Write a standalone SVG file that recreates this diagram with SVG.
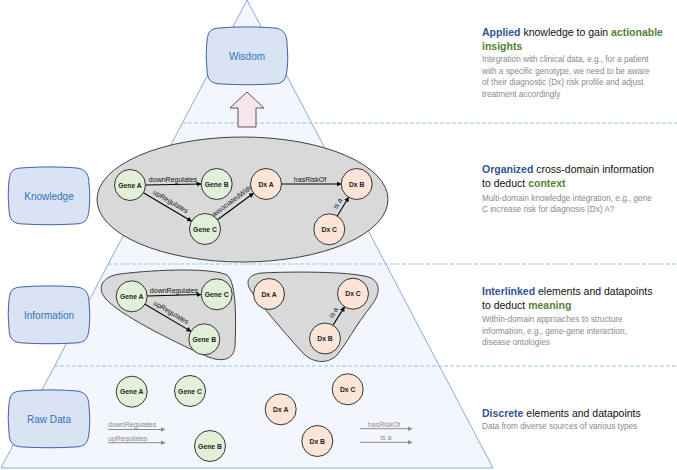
<svg xmlns="http://www.w3.org/2000/svg" width="677" height="470" viewBox="0 0 677 470">
<style>
.lbl{font-family:"Liberation Sans",Arial,sans-serif;font-size:10px;fill:#2e75b6;text-anchor:middle;dominant-baseline:central}
.blob{fill:#dae3f3;stroke:#3d62a8;stroke-width:1}
.gene{fill:#e2f0d9;stroke:#333;stroke-width:1}
.dx{fill:#fbe5d6;stroke:#333;stroke-width:1}
.nt{font-family:"Liberation Sans",Arial,sans-serif;font-size:6.8px;font-weight:bold;fill:#222;text-anchor:middle;dominant-baseline:central}
.edge{stroke:#000;stroke-width:1.1;fill:none;marker-end:url(#ah)}
.el{font-family:"Liberation Sans",Arial,sans-serif;font-size:7px;fill:#111;text-anchor:middle}
.gedge{stroke:#8c8c8c;stroke-width:1;fill:none;marker-end:url(#gah)}
.gl{font-family:"Liberation Sans",Arial,sans-serif;font-size:7px;fill:#8c8c8c}
.dash{stroke:#9dc3e6;stroke-width:1;stroke-dasharray:4 2;fill:none}
.hd{font-family:"Liberation Sans",Arial,sans-serif;font-size:10.5px;fill:#111}
.b{font-weight:bold;fill:#2f5597}
.g{font-weight:bold;fill:#548235}
.sub{font-family:"Liberation Sans",Arial,sans-serif;font-size:8.2px;fill:#8a8a8a}
.grp{fill:#d9d9d9;stroke:#404040;stroke-width:1}
</style>
<defs>
<marker id="ah" viewBox="0 0 10 10" refX="9" refY="5" markerWidth="5" markerHeight="5" orient="auto" markerUnits="userSpaceOnUse"><path d="M0,0 L10,5 L0,10 Z" fill="#000"/></marker>
<marker id="gah" viewBox="0 0 10 10" refX="9" refY="5" markerWidth="5" markerHeight="5" orient="auto" markerUnits="userSpaceOnUse"><path d="M0,0 L10,5 L0,10 Z" fill="#8c8c8c"/></marker>
<path id="blobshape" d="M -28,-28 C -10,-29.5 10,-29.5 28,-28 C 37,-27 40,-21 40,-12 C 41,-3 41,6 40,14 C 39,25 35,28 25,28 C 8,29 -8,29 -25,28 C -36,28 -40,24 -40,13 C -41,3 -41,-6 -40,-15 C -39,-25 -36,-27.5 -28,-28 Z"/>
</defs>
<rect width="677" height="470" fill="#fff"/>
<g id="pyramid">
<path d="M247,0 L493,468 L1,468 Z" fill="#f3f6fc" stroke="#8eaadb" stroke-width="1"/>
<line class="dash" x1="182" y1="123" x2="677" y2="123"/>
<line class="dash" x1="108" y1="264" x2="677" y2="264"/>
<line class="dash" x1="54" y1="366" x2="677" y2="366"/>
</g>
<g id="wisdom-arrow">
<path d="M238,127 L238,108 L230,108 L247,92 L264,108 L256,108 L256,127 Z" fill="#f8e4ec" stroke="#595959" stroke-width="1"/>
</g>
<g id="label-wisdom"><use href="#blobshape" class="blob" transform="translate(247,56)"/><text class="lbl" x="247" y="56">Wisdom</text></g>
<g id="label-knowledge"><use href="#blobshape" class="blob" transform="translate(49,196)"/><text class="lbl" x="49" y="196">Knowledge</text></g>
<g id="label-information"><use href="#blobshape" class="blob" transform="translate(49,315)"/><text class="lbl" x="49" y="315">Information</text></g>
<g id="label-rawdata"><use href="#blobshape" class="blob" transform="translate(49,419)"/><text class="lbl" x="49" y="419">Raw Data</text></g>

<g id="knowledge-group"><ellipse cx="242.5" cy="199.5" rx="145.5" ry="62.5" class="grp"/></g>
<g id="info-group-genes"><path class="grp" d="M120,274 C160,269 213,268 227,275 C237,282 236,325 235,346 C234,360 222,363 206,356 C172,341 118,314 105,298 C96,286 104,276 120,274 Z"/></g>
<g id="info-group-dx"><path class="grp" d="M262,273 C300,271 358,272 371,278 C382,284 379,296 371,306 C356,325 346,344 337,355 C327,365 312,363 302,352 C282,330 262,306 251,291 C244,280 250,274 262,273 Z"/></g>

<g id="connectors">
<line class="edge" x1="145.5" y1="185" x2="201" y2="184"/>
<line class="edge" x1="143.4" y1="192.8" x2="191.6" y2="221.2"/>
<line class="edge" x1="217.5" y1="219.8" x2="253.5" y2="193.2"/>
<line class="edge" x1="281.5" y1="184" x2="341" y2="184"/>
<line class="edge" x1="337.3" y1="216" x2="348.7" y2="197.3"/>
<line class="edge" x1="147" y1="296" x2="201" y2="294.5"/>
<line class="edge" x1="145" y1="304.2" x2="191" y2="331.4"/>
<line class="edge" x1="333.2" y1="324.9" x2="344.5" y2="306.9"/>
<line class="gedge" x1="108" y1="429.5" x2="165" y2="429.5"/>
<line class="gedge" x1="108" y1="442.7" x2="165" y2="442.7"/>
<line class="gedge" x1="360" y1="428.7" x2="412" y2="428.7"/>
<line class="gedge" x1="360" y1="442.3" x2="412" y2="442.3"/>
<text class="el" x="173" y="182">downRegulates</text>
<text class="el" transform="translate(169.5,203.5) rotate(30.4)">upRegulates</text>
<text class="el" transform="translate(233,203) rotate(-36.4)">associatedWith</text>
<text class="el" x="310" y="181.5">hasRiskOf</text>
<text class="el" transform="translate(339.6,204.6) rotate(-58.8)">is a</text>
<text class="el" x="174" y="292.5">downRegulates</text>
<text class="el" transform="translate(170,314.4) rotate(30.6)">upRegulates</text>
<text class="el" transform="translate(335.5,313.8) rotate(-58)">is a</text>
<text class="gl" x="108" y="427">downRegulates</text>
<text class="gl" x="108" y="440.5">upRegulates</text>
<text class="gl" x="384" y="426.5" text-anchor="middle">hasRiskOf</text>
<text class="gl" x="386" y="440" text-anchor="middle">is a</text>
</g>

<g id="k-geneA"><circle class="gene" cx="130" cy="185" r="15.5"/><text class="nt" x="130" y="185">Gene A</text></g>
<g id="k-geneB"><circle class="gene" cx="216.7" cy="184" r="15.5"/><text class="nt" x="216.7" y="184">Gene B</text></g>
<g id="k-geneC"><circle class="gene" cx="205" cy="229" r="15.5"/><text class="nt" x="205" y="229">Gene C</text></g>
<g id="k-dxA"><circle class="dx" cx="266" cy="184" r="15.5"/><text class="nt" x="266" y="184">Dx A</text></g>
<g id="k-dxB"><circle class="dx" cx="356.7" cy="184" r="15.5"/><text class="nt" x="356.7" y="184">Dx B</text></g>
<g id="k-dxC"><circle class="dx" cx="329.3" cy="229.3" r="15.5"/><text class="nt" x="329.3" y="229.3">Dx C</text></g>

<g id="i-geneA"><circle class="gene" cx="131.7" cy="296.3" r="15.5"/><text class="nt" x="131.7" y="296.3">Gene A</text></g>
<g id="i-geneC"><circle class="gene" cx="216.7" cy="294.3" r="15.5"/><text class="nt" x="216.7" y="294.3">Gene C</text></g>
<g id="i-geneB"><circle class="gene" cx="204.3" cy="339.3" r="15.5"/><text class="nt" x="204.3" y="339.3">Gene B</text></g>
<g id="i-dxA"><circle class="dx" cx="269" cy="294" r="15.5"/><text class="nt" x="269" y="294">Dx A</text></g>
<g id="i-dxC"><circle class="dx" cx="353" cy="293.7" r="15.5"/><text class="nt" x="353" y="293.7">Dx C</text></g>
<g id="i-dxB"><circle class="dx" cx="325" cy="338.5" r="15.5"/><text class="nt" x="325" y="338.5">Dx B</text></g>

<g id="r-geneA"><circle class="gene" cx="131.7" cy="391.7" r="15.5"/><text class="nt" x="131.7" y="391.7">Gene A</text></g>
<g id="r-geneC"><circle class="gene" cx="190" cy="391" r="15.5"/><text class="nt" x="190" y="391">Gene C</text></g>
<g id="r-geneB"><circle class="gene" cx="210" cy="446" r="15.5"/><text class="nt" x="210" y="446">Gene B</text></g>
<g id="r-dxA"><circle class="dx" cx="280.7" cy="409.3" r="15.5"/><text class="nt" x="280.7" y="409.3">Dx A</text></g>
<g id="r-dxC"><circle class="dx" cx="347.7" cy="389.3" r="15.5"/><text class="nt" x="347.7" y="389.3">Dx C</text></g>
<g id="r-dxB"><circle class="dx" cx="317.3" cy="441" r="15.5"/><text class="nt" x="317.3" y="441">Dx B</text></g>

<g id="text-wisdom">
<text class="hd" x="482" y="35.5"><tspan class="b">Applied</tspan> knowledge to gain <tspan class="g">actionable</tspan></text>
<text class="hd" x="482" y="49.5"><tspan class="g">insights</tspan></text>
<text class="sub" x="482" y="62">Integration with clinical data, e.g., for a patient</text>
<text class="sub" x="482" y="73.5">with a specific genotype, we need to be aware</text>
<text class="sub" x="482" y="85">of their diagnostic (Dx) risk profile and adjust</text>
<text class="sub" x="482" y="96.5">treatment accordingly</text>
</g>
<g id="text-knowledge">
<text class="hd" x="482" y="172.5"><tspan class="b">Organized</tspan> cross-domain information</text>
<text class="hd" x="482" y="186.5">to deduct <tspan class="g">context</tspan></text>
<text class="sub" x="482" y="200.5">Multi-domain knowledge integration, e.g., gene</text>
<text class="sub" x="482" y="212">C increase risk for diagnosis (Dx) A?</text>
</g>
<g id="text-information">
<text class="hd" x="482" y="294.5"><tspan class="b">Interlinked</tspan> elements and datapoints</text>
<text class="hd" x="482" y="308.5">to deduct <tspan class="g">meaning</tspan></text>
<text class="sub" x="482" y="322">Within-domain approaches to structure</text>
<text class="sub" x="482" y="333.5">information, e.g., gene-gene interaction,</text>
<text class="sub" x="482" y="345">disease ontologies</text>
</g>
<g id="text-rawdata">
<text class="hd" x="482" y="416.5"><tspan class="b">Discrete</tspan> elements and datapoints</text>
<text class="sub" x="482" y="429">Data from diverse sources of various types</text>
</g>
</svg>
